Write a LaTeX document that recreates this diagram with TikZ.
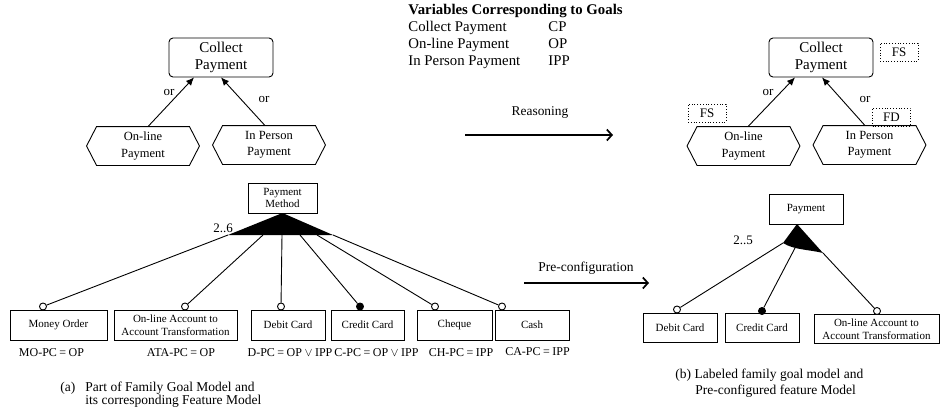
\documentclass[tikz,border=0pt]{standalone}
\usepackage{fontspec}
\setmainfont{Liberation Serif}
\usetikzlibrary{arrows.meta,calc}
\newcommand\pcgap{\hspace{2.5pt}}
\begin{document}
\begin{tikzpicture}[x=1pt,y=-1pt,line width=0.9pt,
  goalbox/.style={draw,rounded corners=4pt,minimum width=104pt,minimum height=39pt,
    inner sep=0pt,align=center,font=\fontsize{15}{17}\selectfont},
  hexbox/.style={minimum width=112pt,minimum height=38pt,inner sep=0pt,align=center,
    font=\fontsize{12.5}{16.5}\selectfont},
  featbox/.style={draw,minimum height=30pt,inner sep=0pt,align=center,
    font=\fontsize{11}{12.5}\selectfont},
  tagbox/.style={draw,dotted,line width=0.8pt,minimum width=38pt,minimum height=18pt,inner sep=0pt,
    font=\fontsize{13}{14}\selectfont},
  orlbl/.style={font=\fontsize{13}{14}\selectfont,inner sep=0pt},
  pclbl/.style={font=\fontsize{12}{13}\selectfont,inner sep=0pt},
  caplbl/.style={font=\fontsize{13.5}{15}\selectfont,inner sep=0pt,anchor=base west},
  tbl/.style={font=\fontsize{14.8}{16}\selectfont,inner sep=0pt,anchor=base west},
  orarrow/.style={-{Latex[length=8pt,width=7pt]}},
  steparrow/.style={-{Straight Barb[length=5pt,width=11pt]},line width=1.7pt},
  link/.style={},
  optdot/.style={circle,draw,fill=white,inner sep=0pt,minimum size=7pt},
  mandot/.style={circle,draw,fill=black,inner sep=0pt,minimum size=7pt},
]
\path[use as bounding box] (0,0) rectangle (940,408);

% hexagonal outline around a goal node
\newcommand\hexoutline[1]{%
  \draw ($(#1.north west)+(10,0)$) -- ($(#1.north east)+(-10,0)$) -- (#1.east)
    -- ($(#1.south east)+(-10,0)$) -- ($(#1.south west)+(10,0)$) -- (#1.west) -- cycle;}

% ---------- goal model (a) ----------
\node[goalbox] (cpA) at (221,57.5) {Collect\\Payment};
\node[hexbox] (opA) at (143,146) {On-line\\Payment};
\node[hexbox] (ippA) at (269,145) {In Person\\Payment};
\hexoutline{opA}
\hexoutline{ippA}
\draw[orarrow] ([xshift=5pt]opA.north) -- ([xshift=-27pt]cpA.south);
\draw[orarrow] ([xshift=-4pt]ippA.north) -- ([xshift=0pt]cpA.south);
\node[orlbl] (orA1) at (169,92) {or};
\node[orlbl] (orA2) at (264,99) {or};

% ---------- variable table ----------
\node[tbl,font=\fontsize{14.8}{16}\selectfont\bfseries] (tt) at (408,14) {Variables Corresponding to Goals};
\node[tbl] (t1) at (408,31) {Collect Payment};
\node[tbl] (t2) at (408,48) {On-line Payment};
\node[tbl] (t3) at (408,65) {In Person Payment};
\node[tbl] (v1) at (548,31) {CP};
\node[tbl] (v2) at (548,48) {OP};
\node[tbl] (v3) at (548,65) {IPP};

% ---------- reasoning step ----------
\node[orlbl,font=\fontsize{13.4}{14}\selectfont] (rsn) at (540,113) {Reasoning};
\coordinate (rsA) at (465,135);
\coordinate (rsB) at (613,135);
\draw[steparrow] (rsA) -- (rsB);

% ---------- labeled goal model (b) ----------
\node[goalbox] (cpB) at (821,57.5) {Collect\\Payment};
\node[hexbox] (opB) at (743.5,146) {On-line\\Payment};
\node[hexbox] (ippB) at (869.5,145) {In Person\\Payment};
\hexoutline{opB}
\hexoutline{ippB}
\draw[orarrow] ([xshift=4.5pt]opB.north) -- ([xshift=-26pt]cpB.south);
\draw[orarrow] ([xshift=-4.5pt]ippB.north) -- ([xshift=1pt]cpB.south);
\node[orlbl] (orB1) at (768,92) {or};
\node[orlbl] (orB2) at (865,99) {or};
\node[tagbox] (fsTop) at (899,52) {FS};
\node[tagbox] (fsOp) at (707,113) {FS};
\node[tagbox] (fdIpp) at (891.5,117) {FD};

% ---------- feature model (a) ----------
\node[featbox,minimum width=69pt] (pm) at (282.5,198) {Payment\\Method};
\coordinate (gA) at (282.5,213);
\coordinate (gL) at (228,235);
\coordinate (gR) at (333,235);
\fill (gA) -- (gL) -- (gR) -- cycle;
\node[orlbl] (card) at (223,228) {2..6};

\node[featbox,minimum width=97pt] (mo) at (58.5,325) {Money Order};
\node[featbox,minimum width=123pt] (ata) at (175.5,325) {On-line Account to\\Account Transformation};
\node[featbox,minimum width=74pt] (dc) at (288,325) {Debit Card};
\node[featbox,minimum width=73pt] (cc) at (367.5,325) {Credit Card};
\node[featbox,minimum width=75pt] (ch) at (454.5,325) {Cheque};
\node[featbox,minimum width=74pt] (ca) at (532,325) {Cash};

\node[optdot] (dmo) at (43,306.5) {};
\node[optdot] (data) at (185,306.5) {};
\node[optdot] (ddc) at (281,306.5) {};
\node[mandot] (dcc) at (360,306.5) {};
\node[optdot] (dch) at (435,306.5) {};
\node[optdot] (dca) at (502,306.5) {};

\coordinate (s2) at (263,235);
\coordinate (s3) at (282,235);
\coordinate (s4) at (300,235);
\coordinate (s5) at (317,235);
\draw[link] (gL) -- (dmo);
\draw[link] (s2) -- (data);
\draw[link] (s3) -- (ddc);
\draw[link] (s4) -- (dcc);
\draw[link] (s5) -- (dch);
\draw[link] (gR) -- (dca);

\node[pclbl] (pc1) at (51.5,353) {MO-PC\pcgap=\pcgap OP};
\node[pclbl] (pc2) at (181,353) {ATA-PC\pcgap=\pcgap OP};
\node[pclbl] (pc3) at (290,353) {D-PC\pcgap=\pcgap OP\pcgap$\vee$\pcgap IPP};
\node[pclbl] (pc4) at (376.5,353) {C-PC\pcgap=\pcgap OP\pcgap$\vee$\pcgap IPP};
\node[pclbl] (pc5) at (461,353) {CH-PC\pcgap=\pcgap IPP};
\node[pclbl] (pc6) at (537.5,352) {CA-PC\pcgap=\pcgap IPP};

% ---------- pre-configuration step ----------
\node[orlbl,font=\fontsize{13.5}{14}\selectfont] (pre) at (586,268) {Pre-configuration};
\coordinate (pcA) at (524,283);
\coordinate (pcB) at (649,283);
\draw[steparrow] (pcA) -- (pcB);

% ---------- pre-configured feature model (b) ----------
\node[featbox,minimum width=74pt] (pay) at (806,209) {Payment};
\coordinate (hA) at (797,224);
\coordinate (hL) at (783,243);
\coordinate (hR) at (823,253);
\coordinate (hM) at (795,248);
\fill (hA) -- (hL) .. controls (794,250) and (809,249.5) .. (hR) -- cycle;
\node[orlbl] (card2) at (743,240) {2..5};

\node[featbox,minimum width=74pt,minimum height=29pt] (dc2) at (680,327.5) {Debit Card};
\node[featbox,minimum width=74pt,minimum height=29pt] (cc2) at (762,327.5) {Credit Card};
\node[featbox,minimum width=125pt,minimum height=29pt] (ata2) at (876.5,329) {On-line Account to\\Account Transformation};

\node[optdot] (ddc2) at (677,309.5) {};
\node[mandot] (dcc2) at (762,311) {};
\node[optdot] (data2) at (877,311) {};
\draw[link] (hL) -- (ddc2);
\draw[link] (hM) -- (dcc2);
\draw[link] (hR) -- (data2);

% ---------- captions ----------
\node[caplbl] (capA0) at (60,391) {(a)};
\node[caplbl] (capA1) at (85,391) {Part of Family Goal Model and};
\node[caplbl] (capA2) at (85,404) {its corresponding Feature Model};
\node[caplbl] (capB1) at (675,378) {(b) Labeled family goal model and};
\node[caplbl] (capB2) at (695,394) {Pre-configured feature Model};
\end{tikzpicture}
\end{document}
